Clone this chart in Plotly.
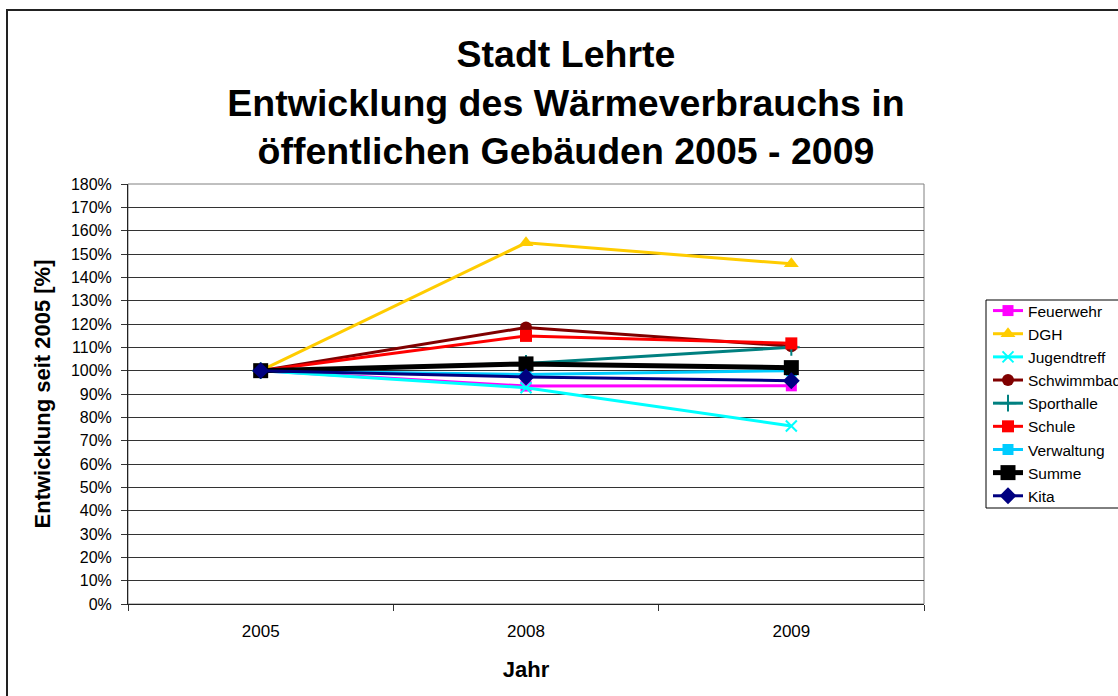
import plotly.graph_objects as go

years = ["2005", "2008", "2009"]

feuerwehr = [100, 93.4, 93.5]
dgh = [100, 154.8, 145.8]
jugendtreff = [100, 92.7, 76.3]
schwimmbad = [100, 118.5, 110.5]
sporthalle = [100, 103.1, 110.0]
schule = [100, 114.9, 111.7]
verwaltung = [100, 98.4, 100.0]
summe = [100, 102.9, 101.3]
kita = [100, 97.3, 95.7]

y_ticks = list(range(0, 181, 10))
y_tick_labels = [f"{v}%" for v in y_ticks]

series = [
    ("Feuerwehr", feuerwehr, "#FF00FF", "square", 11, 3),
    ("DGH", dgh, "#FFCC00", "triangle-up", 13, 3),
    ("Jugendtreff", jugendtreff, "#00FFFF", "x-thin", 11, 3),
    ("Schwimmbad", schwimmbad, "#800000", "circle", 12, 3),
    ("Sporthalle", sporthalle, "#008080", "cross-thin", 12, 3),
    ("Schule", schule, "#FF0000", "square", 12, 3),
    ("Verwaltung", verwaltung, "#00CCFF", "square", 11, 3),
    ("Summe", summe, "#000000", "square", 15, 5),
    ("Kita", kita, "#000080", "diamond", 13, 3),
]

fig = go.Figure()
for name, vals, color, sym, size, lw in series:
    marker = dict(symbol=sym, size=size, color=color)
    if sym.endswith("-thin"):
        marker["line"] = dict(color=color, width=2)
    fig.add_trace(go.Scatter(
        x=years, y=vals, name=name, mode="lines+markers",
        line=dict(color=color, width=lw),
        marker=marker,
    ))

W, H = 1118, 696
L, R, T, B = 128, 924, 184, 604


def px_x(p):
    return (p - L) / (R - L)


def px_y(p):
    return (B - p) / (B - T)


font_family = "Arial, Liberation Sans, sans-serif"

fig.update_layout(
    width=W, height=H,
    margin=dict(l=L, r=W - R, t=T, b=H - B, pad=0, autoexpand=False),
    paper_bgcolor="white", plot_bgcolor="white",
    font=dict(family=font_family, color="black"),
    title=dict(
        text="Stadt Lehrte<br>Entwicklung des Wärmeverbrauchs in<br>öffentlichen Gebäuden 2005 - 2009",
        font=dict(size=37.5, family=font_family, weight="bold", color="black"),
        x=566 / W, xanchor="center", xref="container",
        y=0.904, yanchor="middle", yref="container",
    ),
    showlegend=True,
    legend=dict(
        x=px_x(988), xanchor="left",
        y=px_y(294), yanchor="top",
        borderwidth=0, bgcolor="rgba(0,0,0,0)",
        font=dict(size=15.5, family=font_family),
        itemwidth=30,
    ),
    xaxis=dict(
        type="category",
        categoryorder="array", categoryarray=years,
        range=[-0.5, 2.5],
        tickson="boundaries",
        ticks="outside", ticklen=6, tickcolor="#333",
        ticklabelstandoff=12,
        showline=True, linecolor="#222", linewidth=1,
        showgrid=False,
        tickfont=dict(size=17),
        title=dict(text="Jahr", font=dict(size=22, weight="bold"), standoff=21),
    ),
    yaxis=dict(
        range=[0, 180],
        tickvals=y_ticks, ticktext=y_tick_labels,
        ticks="outside", ticklen=6, tickcolor="#333",
        ticklabelstandoff=6,
        showline=True, linecolor="#222", linewidth=1,
        showgrid=True, gridcolor="#333", gridwidth=1,
        zeroline=False,
        tickfont=dict(size=16),
        title=dict(text="Entwicklung seit 2005 [%]", font=dict(size=22, weight="bold"), standoff=14),
    ),
    shapes=[
        dict(type="rect", xref="paper", yref="paper", x0=0, x1=1, y0=0, y1=1,
             line=dict(color="#808080", width=1), layer="below"),
        dict(type="rect", xref="paper", yref="paper",
             x0=px_x(986), x1=px_x(W + 20), y0=px_y(508), y1=px_y(300),
             line=dict(color="black", width=1), fillcolor="white", layer="above"),
        dict(type="rect", xref="paper", yref="paper",
             x0=px_x(7), x1=px_x(W + 20),
             y0=px_y(H + 20), y1=px_y(10),
             line=dict(color="#222", width=2), layer="above"),
    ],
)

fig.write_html(
    "out.html",
    config={"displayModeBar": False},
    post_script="document.body.style.margin='0';document.body.style.overflow='hidden';",
)
